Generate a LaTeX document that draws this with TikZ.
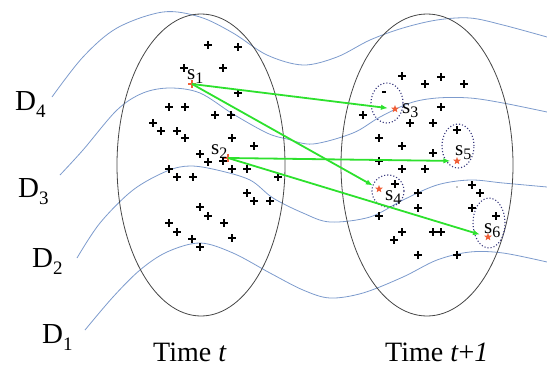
\documentclass[tikz,border=0pt]{standalone}
\usepackage{fontspec}
\setmainfont{Liberation Serif}
\usetikzlibrary{shapes.geometric,arrows.meta}
\definecolor{wavec}{RGB}{125,155,205}
\definecolor{grn}{RGB}{45,225,45}
\definecolor{redm}{RGB}{240,95,55}
\definecolor{navyd}{RGB}{55,55,125}
\definecolor{ellc}{RGB}{70,70,70}
\newcommand\slab[1]{{\fontsize{21}{21}\selectfont s\raisebox{-4pt}{\fontsize{16}{16}\selectfont #1}}}
\newcommand\dlab[1]{{\fontsize{29}{29}\selectfont D\raisebox{-7pt}{\fontsize{19}{19}\selectfont #1}}}
\tikzset{
  wave/.style={wavec, line width=0.8pt},
  bigell/.style={ellc, line width=0.8pt},
  clust/.style={navyd, dotted, line width=1.1pt},
  pls/.pic={\draw[line width=1.1pt] (-3.7,0)--(3.7,0) (0,-3.7)--(0,3.7);},
  starm/.style={star, star points=5, star point ratio=2.3, fill=redm, draw=none, minimum size=8pt, inner sep=0pt},
  garrow/.style={grn, line width=1.8pt, -{Latex[length=7pt,width=5.5pt]}, shorten >=4pt},
  lab/.style={anchor=base west, inner sep=0pt, text=black},
}
\begin{document}
\begin{tikzpicture}[x=1pt,y=-1pt]
\useasboundingbox (0,0) rectangle (547,367);
% wave curves
\draw[wave] plot[smooth,tension=0.55] coordinates {(52,97) (83,57) (117,28) (163,12) (200,17) (233,33) (267,55) (303,65) (337,57) (370,40) (403,28) (437,20) (470,18) (503,25) (547,37)};
\draw[wave] plot[smooth,tension=0.55] coordinates {(60,175) (83,150) (117,110) (143,93) (170,88) (200,93) (233,114) (267,133) (287,139) (313,144) (353,133) (380,117) (410,103) (437,98) (470,98) (503,103) (547,112)};
\draw[wave] plot[smooth,tension=0.55] coordinates {(77,258) (100,223) (133,190) (167,171) (190,166) (217,170) (250,180) (273,198) (303,213) (330,222) (370,217) (403,200) (437,185) (470,180) (503,183) (547,187)};
\draw[wave] plot[smooth,tension=0.55] coordinates {(85,330) (113,297) (140,270) (167,252) (200,243) (233,253) (270,273) (303,290) (330,298) (363,293) (403,277) (437,260) (470,252) (503,253) (547,262)};
% big ellipses
\draw[bigell] (201,165) ellipse [x radius=84pt, y radius=151pt];
\draw[bigell] (427,165) ellipse [x radius=86pt, y radius=151pt];
% dotted clusters
\draw[clust] (387,103) ellipse [x radius=16pt, y radius=20pt];
\draw[clust] (458,146) ellipse [x radius=16pt, y radius=22pt];
\draw[clust] (388,191) ellipse [x radius=16pt, y radius=16pt];
\draw[clust] (489,223) ellipse [x radius=16pt, y radius=25pt];
% plus marks, time t
\foreach \p in {(208,45),(238,47),(223,68),(184,68),(238,93),(169,107),(185,107),(215,115),(231,115),(153,123),(161,131),(177,131),(185,138),(232,138),(254,146),(200,154),(208,162),(223,161),(232,169),(247,169),(278,177),(169,169),(177,177),(193,177),(247,193),(254,201),(270,201),(200,207),(208,216),(224,223),(169,223),(177,232),(192,239),(200,247),(232,238)}
  \pic at \p {pls};
% plus marks, time t+1
\foreach \p in {(402,76),(441,77),(425,84),(464,84),(363,115),(441,107),(410,123),(433,123),(379,138),(402,146),(433,153),(457,130),(402,169),(425,169),(379,161),(395,184),(418,193),(418,208),(472,185),(480,193),(472,208),(379,216),(402,232),(394,240),(433,232),(441,232),(418,255),(457,255),(496,216)}
  \pic at \p {pls};
\draw[line width=1.1pt] (382,92) -- (386,92);
\fill (457,187) circle (0.6pt);
% source points
\coordinate (s1) at (192,84);
\coordinate (s2) at (228,158);
\pic[redm] at (s1) {pls};
\pic[redm] at (s2) {pls};
% target stars
\node[starm] (st3) at (395,109) {};
\node[starm] (st5) at (457,161) {};
\node[starm] (st4) at (379,189) {};
\node[starm] (st6) at (488,237) {};
% arrows
\draw[garrow] (s1) -- (st3);
\draw[garrow] (s1) -- (st4);
\draw[garrow] (s2) -- (st5);
\draw[garrow] (s2) -- (st6);
% s labels
\node[lab] (l1) at (187,79) {\slab{1}};
\node[lab] (l2) at (211,154) {\slab{2}};
\node[lab] (l3) at (402,113) {\slab{3}};
\node[lab] (l5) at (455,155) {\slab{5}};
\node[lab] (l4) at (385,200) {\slab{4}};
\node[lab] (l6) at (484,233) {\slab{6}};
% D labels
\node[lab] (d4) at (15,110) {\dlab{4}};
\node[lab] (d3) at (18,197) {\dlab{3}};
\node[lab] (d2) at (32,267) {\dlab{2}};
\node[lab] (d1) at (42,343) {\dlab{1}};
% time labels
\node[lab] (tt) at (153,361) {\fontsize{28}{28}\selectfont Time \textit{t}};
\node[lab] (tt1) at (385,361) {\fontsize{28}{28}\selectfont Time \textit{t}+\textit{1}};
\end{tikzpicture}
\end{document}
